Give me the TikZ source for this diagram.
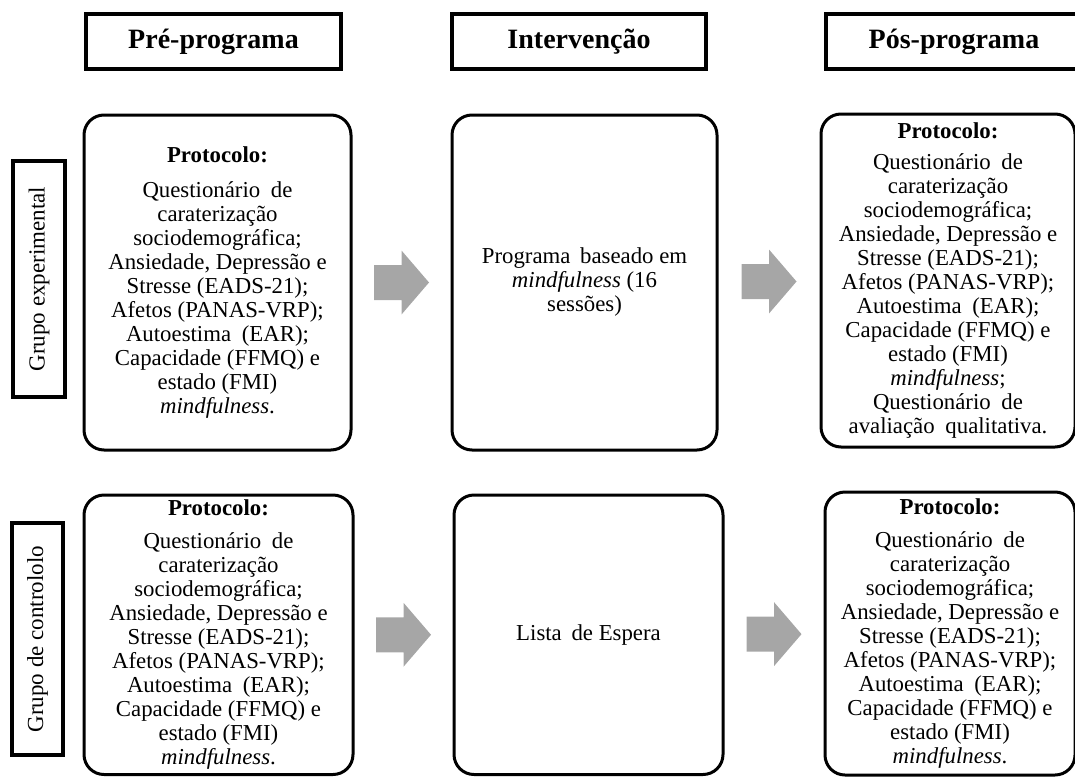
\documentclass[tikz,border=0pt]{standalone}
\usepackage{fontspec}
\setmainfont{Liberation Serif}
\usetikzlibrary{calc}
\definecolor{arrowgray}{RGB}{166,166,166}
\tikzset{
  hdr/.style={draw, line width=4.5pt, minimum height=55pt, inner sep=0pt, font=\fontsize{28}{30}\selectfont\bfseries},
  grp/.style={draw, line width=4pt, inner sep=0pt, rotate=90, font=\fontsize{23}{24}\selectfont},
  stage/.style={draw, line width=3pt, rounded corners=20pt, inner sep=0pt, align=center, font=\fontsize{22.8}{24}\selectfont},
  blockarrow/.pic={\fill[arrowgray] (-27.5,-17.5) -- (0,-17.5) -- (0,-32) -- (27.5,0) -- (0,32) -- (0,17.5) -- (-27.5,17.5) -- cycle;}
}
\begin{document}
\begin{tikzpicture}[x=1pt,y=-1pt]
\useasboundingbox (0,0) rectangle (1075,776);

% headers
\node[hdr, minimum width=255pt] (hpre) at (213.5,41.5) {Pré-programa};
\node[hdr, minimum width=254pt] (hint) at (579,41.5) {Intervenção};
\node[hdr, minimum width=256pt] (hpos) at (954,41.5) {Pós-programa};

% group labels
\node[grp, minimum width=236pt, minimum height=52pt] (gexp) at (39,279) {Grupo experimental};
\node[grp, minimum width=232pt, minimum height=51pt] (gctl) at (37.5,639) {Grupo de contrololo};

% row 1
\node[stage, minimum width=267pt, minimum height=335pt] (pre1) at (217.5,282.5) {\textbf{Protocolo:}\\[11pt]
Questionário\hspace{5pt} de\\
caraterização\\
sociodemográfica;\\
Ansiedade, Depressão e\\
Stresse (EADS-21);\\
Afetos (PANAS-VRP);\\
Autoestima\hspace{5pt} (EAR);\\
Capacidade (FFMQ) e\\
estado (FMI)\\
\textit{mindfulness}.};

\node[stage, minimum width=265pt, minimum height=335pt] (int1) at (584.5,282.5) {Programa\hspace{4pt} baseado em\\
\textit{mindfulness} (16\\
sessões)};

\node[stage, minimum width=254pt, minimum height=333pt] (pos1) at (948,280.5) {\textbf{Protocolo:}\\[7pt]
Questionário\hspace{5pt} de\\
caraterização\\
sociodemográfica;\\
Ansiedade, Depressão e\\
Stresse (EADS-21);\\
Afetos (PANAS-VRP);\\
Autoestima\hspace{5pt} (EAR);\\
Capacidade (FFMQ) e\\
estado (FMI)\\
\textit{mindfulness};\\
Questionário\hspace{5pt} de\\
avaliação\hspace{5pt} qualitativa.};

% row 2
\node[stage, minimum width=269pt, minimum height=279.5pt] (pre2) at (218.5,634.75) {\textbf{Protocolo:}\\[9pt]
Questionário\hspace{5pt} de\\
caraterização\\
sociodemográfica;\\
Ansiedade, Depressão e\\
Stresse (EADS-21);\\
Afetos (PANAS-VRP);\\
Autoestima\hspace{5pt} (EAR);\\
Capacidade (FFMQ) e\\
estado (FMI)\\
\textit{mindfulness}.};

\node[stage, minimum width=269pt, minimum height=279.5pt] (int2) at (588.5,634.75) {Lista\hspace{4pt} de Espera};

\node[stage, minimum width=250pt, minimum height=283pt] (pos2) at (950,633.5) {\textbf{Protocolo:}\\[9pt]
Questionário\hspace{5pt} de\\
caraterização\\
sociodemográfica;\\
Ansiedade, Depressão e\\
Stresse (EADS-21);\\
Afetos (PANAS-VRP);\\
Autoestima\hspace{5pt} (EAR);\\
Capacidade (FFMQ) e\\
estado (FMI)\\
\textit{mindfulness}.};

% block arrows
\coordinate (a1) at ($(pre1.east)!0.5!(int1.west)$);
\coordinate (a2) at ($(int1.east)!0.5!(pos1.west)$);
\coordinate (a3) at ($(pre2.east)!0.5!(int2.west)$);
\coordinate (a4) at ($(int2.east)!0.5!(pos2.west)$);
\pic at (a1) {blockarrow};
\pic at (a2) {blockarrow};
\pic at (a3) {blockarrow};
\pic at (a4) {blockarrow};
\end{tikzpicture}
\end{document}
